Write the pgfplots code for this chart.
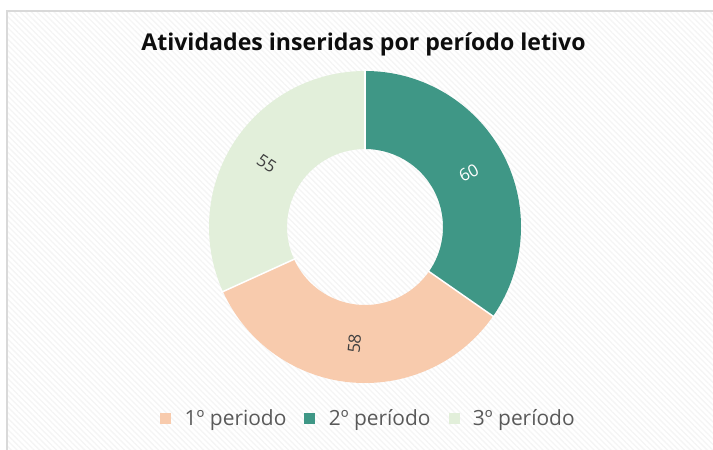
\documentclass[border=0pt]{standalone}
\usepackage{pgfplots}
\pgfplotsset{compat=1.18}
\usepackage{pgfplotstable}
\usepackage{fontspec}
\setmainfont{Open Sans}
\usetikzlibrary{patterns.meta}

\definecolor{p1}{HTML}{F8CBAD}
\definecolor{p2}{HTML}{3F9786}
\definecolor{p3}{HTML}{E2EFDA}
\definecolor{txt}{HTML}{595959}
\definecolor{lbl}{HTML}{404040}

% slices in drawing order, clockwise from 12 o'clock
\pgfplotstableread{
ordem valor
2 60
1 58
3 55
}\donut
\pgfplotstablegetelem{0}{valor}\of\donut \let\vA\pgfplotsretval
\pgfplotstablegetelem{1}{valor}\of\donut \let\vB\pgfplotsretval
\pgfplotstablegetelem{2}{valor}\of\donut \let\vC\pgfplotsretval
\pgfmathsetmacro\tot{\vA+\vB+\vC}
\pgfmathsetmacro\aA{90}
\pgfmathsetmacro\aB{\aA-360*(\vA/\tot)}
\pgfmathsetmacro\aC{\aB-360*(\vB/\tot)}
\pgfmathsetmacro\aD{\aC-360*(\vC/\tot)}
\pgfmathsetmacro\mA{(\aA+\aB)/2}
\pgfmathsetmacro\mB{(\aB+\aC)/2}
\pgfmathsetmacro\mC{(\aC+\aD)/2}
\pgfmathsetmacro\rA{mod(\mA+450,180)-90}
\pgfmathsetmacro\rB{mod(\mB+450,180)-90}
\pgfmathsetmacro\rC{mod(\mC+450,180)-90}

\newcommand\slice[3]{%
  \fill[#3] ([shift={(#1:156bp)}]axis cs:365,223)
    arc[start angle=#1, end angle=#2, radius=156bp]
    -- ([shift={(#2:78bp)}]axis cs:365,223)
    arc[start angle=#2, end angle=#1, radius=78bp] -- cycle;}
\newcommand\sep[1]{%
  \draw[white, line width=1.5bp] ([shift={(#1:76bp)}]axis cs:365,223)
    -- ([shift={(#1:158bp)}]axis cs:365,223);}

\begin{document}
\begin{tikzpicture}
  \fill[white] (0,0) rectangle (713bp,450bp);
  \fill[pattern={Lines[angle=-45,distance=4bp,line width=1.3bp]}, pattern color=black!4]
    (7bp,-5bp) rectangle (720bp,439bp);
  \draw[black!15, line width=1.5bp] (720bp,439bp) -- (7bp,439bp) -- (7bp,-5bp);
  \begin{axis}[
    at={(0,0)}, anchor=south west,
    x=1bp, y=1bp,
    xmin=0, xmax=713, ymin=0, ymax=450,
    hide axis, clip=false,
    legend columns=3,
    legend image code/.code={\fill[#1] (0bp,-5bp) rectangle (10bp,5bp);},
    legend style={at={(axis cs:368.5,32)}, anchor=center, draw=none, fill=none,
      font=\fontsize{21}{25}\selectfont, text=txt, inner sep=0pt,
      /tikz/every odd column/.append style={column sep=12bp},
      /tikz/every even column/.append style={column sep=16bp}},
  ]
    \addlegendimage{p1}\addlegendentry{1º periodo}
    \addlegendimage{p2}\addlegendentry{2º período}
    \addlegendimage{p3}\addlegendentry{3º período}
    \slice{\aA}{\aB}{p2}
    \slice{\aB}{\aC}{p1}
    \slice{\aC}{\aD}{p3}
    \sep{\aA}\sep{\aB}\sep{\aC}
    \node[rotate=\rA, text=white, font=\fontsize{17}{20}\selectfont]
      at ([shift={(\mA:117bp)}]axis cs:365,223) {\vA};
    \node[rotate=\rB, text=lbl, font=\fontsize{17}{20}\selectfont]
      at ([shift={(\mB:117bp)}]axis cs:365,223) {\vB};
    \node[rotate=\rC, text=lbl, font=\fontsize{17}{20}\selectfont]
      at ([shift={(\mC:117bp)}]axis cs:365,223) {\vC};
    \node[anchor=base, font=\bfseries\fontsize{23.2}{28}\selectfont, text=black!95]
      at (axis cs:363.5,399) {Atividades inseridas por período letivo};
  \end{axis}
  \pgfresetboundingbox
  \useasboundingbox (0,0) rectangle (713bp,450bp);
\end{tikzpicture}
\end{document}
